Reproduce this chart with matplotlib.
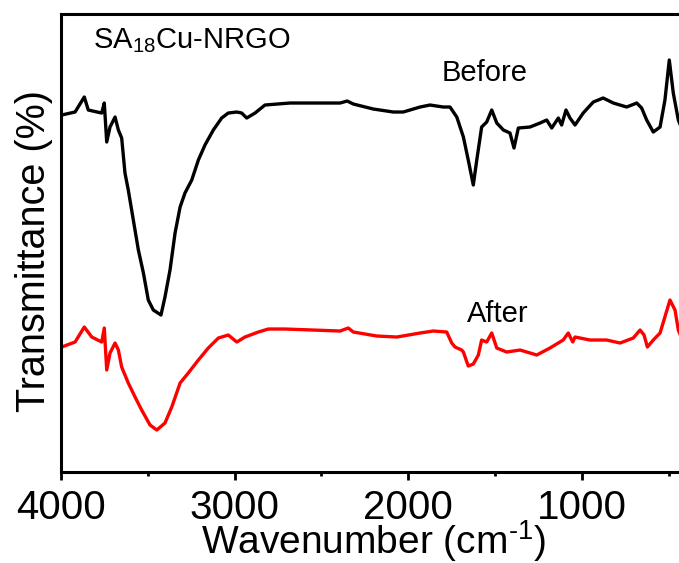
import matplotlib
matplotlib.use("Agg")
import matplotlib.pyplot as plt
from matplotlib.ticker import MultipleLocator

plt.rcParams['font.family'] = ['Liberation Sans', 'DejaVu Sans']
plt.rcParams['mathtext.fontset'] = 'custom'
plt.rcParams['mathtext.rm'] = 'Liberation Sans'
plt.rcParams['mathtext.it'] = 'Liberation Sans:italic'

# FTIR spectra (transmittance in arbitrary units, curves offset)
wn_before = [3994, 3917, 3864, 3841, 3764, 3749, 3735, 3716, 3687, 3668, 3649, 3630,
             3611, 3582, 3553, 3524, 3496, 3467, 3423, 3400, 3371, 3342, 3313, 3285,
             3246, 3208, 3170, 3122, 3074, 3036, 2987, 2959, 2930, 2882, 2825, 2681,
             2490, 2393, 2352, 2317, 2202, 2087, 2030, 1933, 1876, 1800, 1761, 1722,
             1684, 1656, 1627, 1607, 1579, 1550, 1521, 1492, 1454, 1416, 1393, 1368,
             1301, 1243, 1205, 1176, 1138, 1119, 1094, 1071, 1042, 995, 937, 880,
             822, 745, 687, 659, 630, 592, 553, 525, 500, 477, 448, 420]
t_before = [357, 360, 375, 362, 359, 369, 330, 345, 355, 342, 334, 299,
            282, 252, 222, 199, 172, 162, 157, 175, 202, 239, 265, 279,
            292, 312, 327, 342, 354, 359, 360, 359, 354, 359, 367, 369,
            369, 369, 371, 368, 363, 360, 360, 365, 367, 365, 365, 355,
            335, 312, 287, 312, 345, 350, 362, 349, 342, 339, 324, 344,
            345, 349, 352, 344, 354, 347, 362, 354, 347, 359, 370, 374,
            369, 365, 369, 364, 352, 340, 345, 372, 412, 379, 352, 340]

wn_after = [3994, 3917, 3864, 3821, 3764, 3749, 3735, 3716, 3687, 3668, 3649, 3611,
            3572, 3534, 3486, 3447, 3400, 3361, 3313, 3266, 3208, 3151, 3093, 3036,
            2987, 2940, 2863, 2806, 2710, 2393, 2346, 2317, 2182, 2067, 1933, 1857,
            1780, 1751, 1732, 1694, 1684, 1656, 1627, 1598, 1579, 1550, 1521, 1492,
            1435, 1358, 1262, 1186, 1110, 1081, 1055, 1042, 956, 860, 783, 707,
            668, 645, 626, 592, 553, 496, 467, 448, 420]
t_after = [125, 130, 145, 135, 130, 144, 102, 119, 129, 122, 105, 89,
           75, 62, 47, 42, 49, 65, 89, 99, 112, 124, 134, 137,
           130, 135, 140, 143, 143, 141, 144, 140, 136, 135, 139, 141,
           140, 129, 125, 122, 120, 106, 108, 117, 132, 130, 139, 124,
           120, 122, 117, 124, 132, 139, 130, 135, 132, 132, 129, 134,
           142, 137, 125, 132, 139, 172, 162, 142, 130]

fig = plt.figure(figsize=(6.79, 5.63), dpi=100)
ax = fig.add_axes([0.0893, 0.1616, 0.9220, 0.8135])

ax.plot(wn_before, t_before, color='black', lw=2.4)
ax.plot(wn_after, t_after, color='#ff0000', lw=2.4)

ax.set_xlim(4000, 400)
ax.set_ylim(0, 458)
ax.set_yticks([])
ax.xaxis.set_major_locator(MultipleLocator(1000))
ax.xaxis.set_minor_locator(MultipleLocator(500))
ax.tick_params(axis='x', which='major', direction='out', length=6, width=2,
               labelsize=29, pad=6)
ax.tick_params(axis='x', which='minor', direction='out', length=3, width=2)
for sp in ax.spines.values():
    sp.set_linewidth(2.2)

ax.set_xlabel(r'Wavenumber (cm$^{\text{-}1}$)', fontsize=28, va='baseline')
ax.xaxis.set_label_coords(0.5, -0.178)
ax.set_ylabel('Transmittance (%)', fontsize=28.5, va='center')
ax.yaxis.set_label_coords(-0.0425, 0.4836)

ax.text(3814, 424, r'SA$_{18}$Cu-NRGO', fontsize=21, va='baseline', ha='left')
ax.text(1809, 391, 'Before', fontsize=21, va='baseline', ha='left')
ax.text(1665, 150, 'After', fontsize=21, va='baseline', ha='left')

fig.savefig('out.png', dpi=100)
